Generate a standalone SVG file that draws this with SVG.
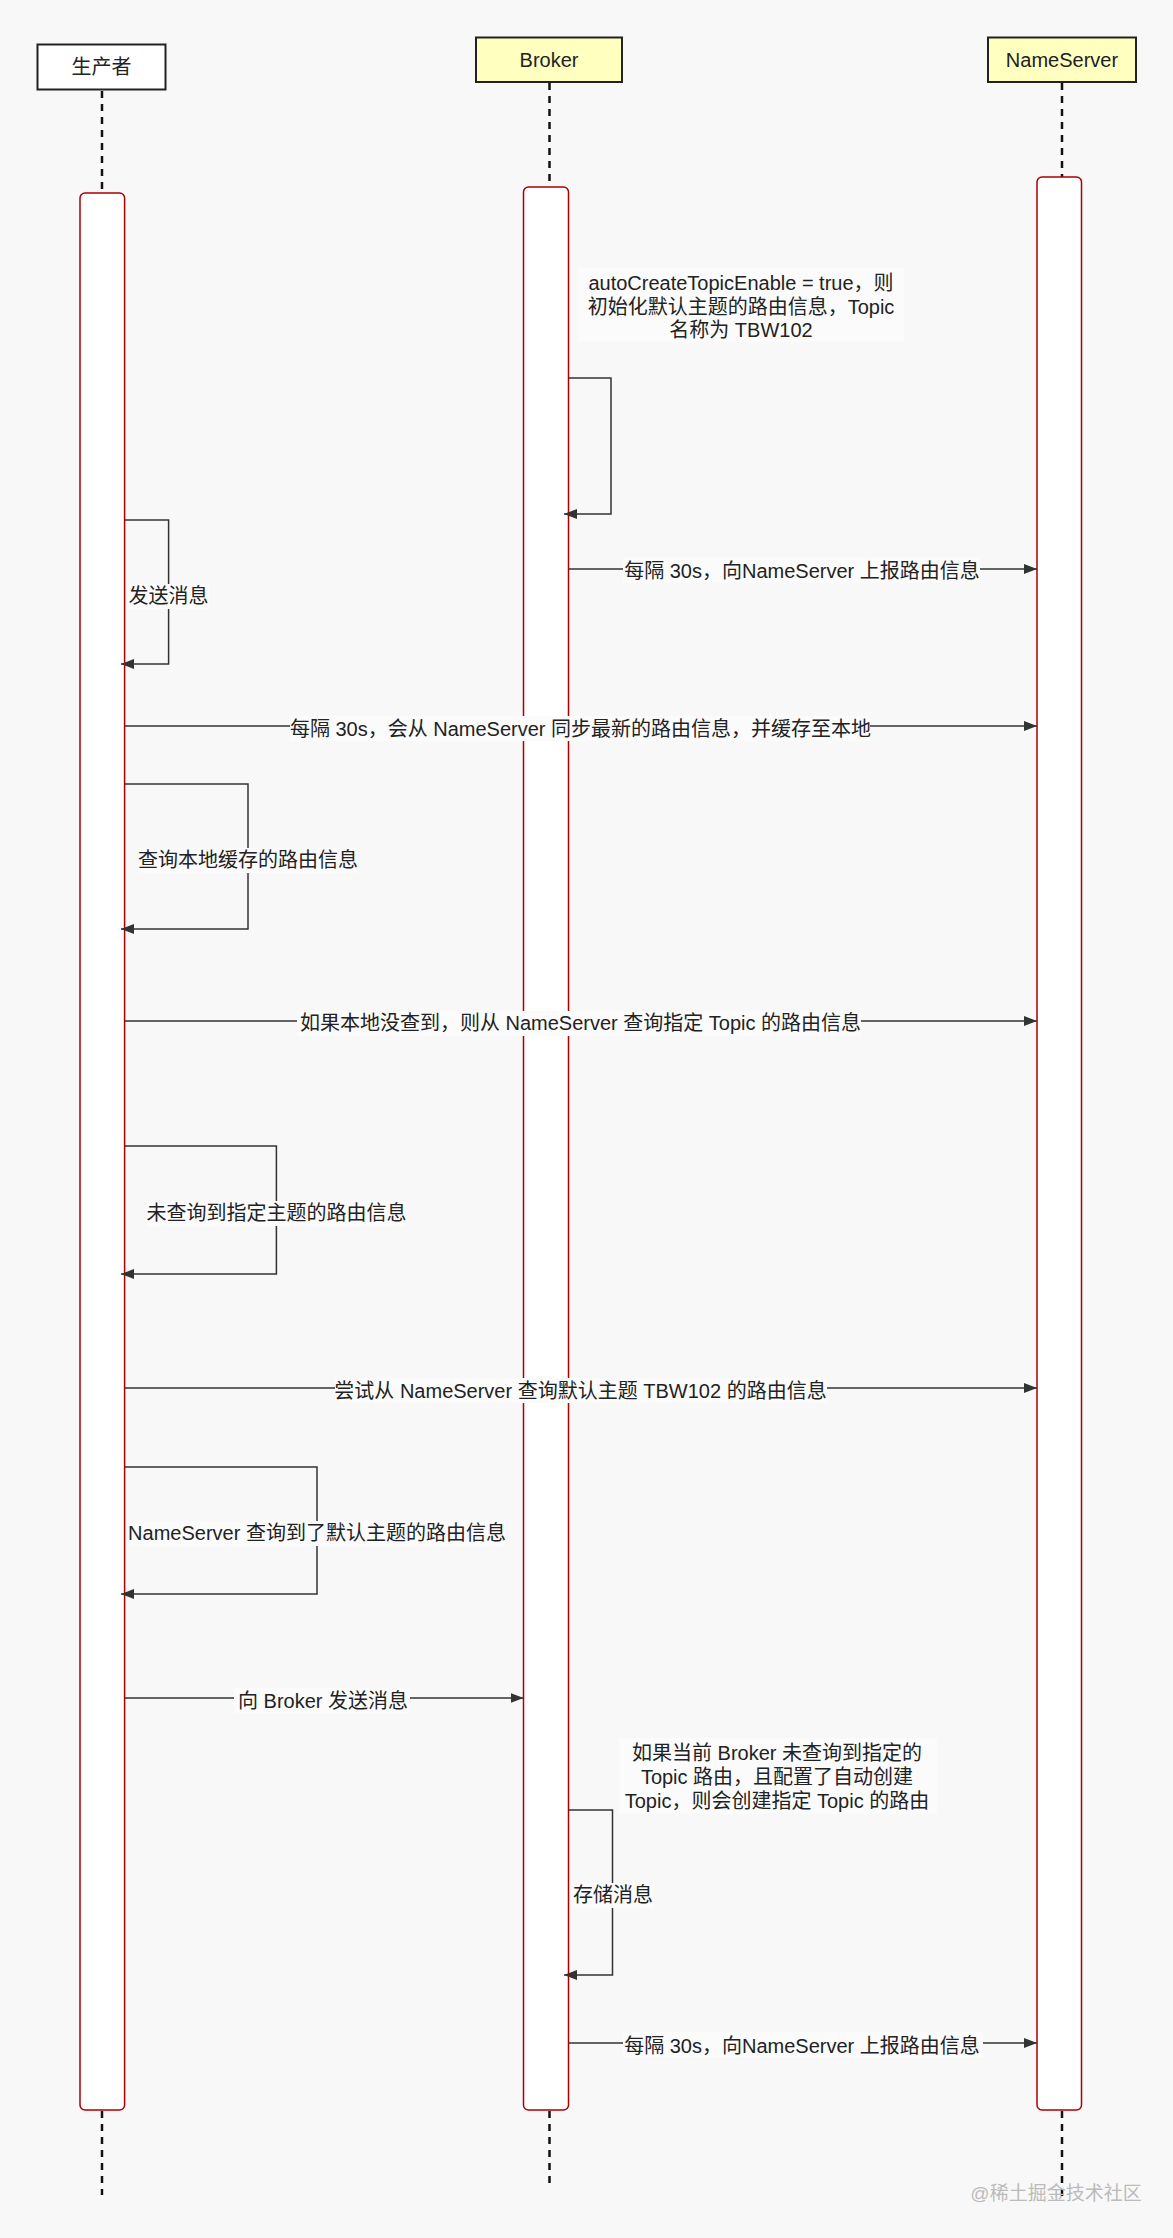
<svg xmlns="http://www.w3.org/2000/svg" width="1173" height="2238" viewBox="0 0 1173 2238">
<style>
.t{font-family:'Liberation Sans','Noto Sans CJK SC',sans-serif;font-size:20px;fill:#222;text-anchor:middle}
.bg{fill:#fbfbfb}
.life{stroke:#111;stroke-width:2.5;stroke-dasharray:7 6;fill:none}
.act{fill:#fff;stroke:#a00;stroke-width:1.5}
.msg{stroke:#333;stroke-width:1.5;fill:none}
.hdr{stroke:#222;stroke-width:2}
</style>
<defs>
<marker id="arr" viewBox="0 0 13 10" refX="13" refY="5" markerWidth="13" markerHeight="10" markerUnits="userSpaceOnUse" orient="auto">
<path d="M0,0 L13,5 L0,10 Z" fill="#333"/>
</marker>
</defs>
<rect x="0" y="0" width="1173" height="2238" fill="#f8f8f8"/>

<g id="producer">
<line class="life" x1="102" y1="91" x2="102" y2="193"/>
<line class="life" x1="102" y1="2111" x2="102" y2="2195"/>
<rect class="hdr" x="37.5" y="44.5" width="128" height="45" fill="#fff"/>
<text class="t" x="101.5" y="74">生产者</text>
<rect class="act" x="80" y="193" width="44.6" height="1917" rx="5"/>
</g>

<g id="broker">
<line class="life" x1="549.5" y1="83" x2="549.5" y2="187"/>
<line class="life" x1="549.5" y1="2111" x2="549.5" y2="2188"/>
<rect class="hdr" x="476" y="37.5" width="146" height="44.5" fill="#ffffc0"/>
<text class="t" x="549" y="67">Broker</text>
<rect class="act" x="523.5" y="187" width="45" height="1923" rx="5"/>
</g>

<g id="nameserver">
<line class="life" x1="1062" y1="83" x2="1062" y2="177"/>
<line class="life" x1="1062" y1="2111" x2="1062" y2="2196"/>
<rect class="hdr" x="988" y="37.5" width="148" height="44.5" fill="#ffffc0"/>
<text class="t" x="1062" y="67">NameServer</text>
<rect class="act" x="1037" y="177" width="44.5" height="1933" rx="5"/>
</g>

<g id="connectors">
<path class="msg" d="M568.5,378 H611 V514 H564" marker-end="url(#arr)"/>
<rect class="bg" x="578" y="268" width="326" height="74"/>
<text class="t" x="741" y="290">autoCreateTopicEnable = true，则</text>
<text class="t" x="741" y="314">初始化默认主题的路由信息，Topic</text>
<text class="t" x="741" y="337">名称为 TBW102</text>

<path class="msg" d="M568.5,569 H1037" marker-end="url(#arr)"/>
<rect class="bg" x="623" y="558" width="357" height="25"/>
<text class="t" x="802" y="578">每隔 30s，向NameServer 上报路由信息</text>

<path class="msg" d="M124.6,520 H168.6 V664 H121" marker-end="url(#arr)"/>
<rect class="bg" x="128" y="584" width="81" height="25"/>
<text class="t" x="168.6" y="603">发送消息</text>

<path class="msg" d="M124.6,726 H1037" marker-end="url(#arr)"/>
<rect class="bg" x="290" y="716" width="580" height="25"/>
<text class="t" x="580.5" y="736">每隔 30s，会从 NameServer 同步最新的路由信息，并缓存至本地</text>

<path class="msg" d="M124.6,784 H248 V929 H121" marker-end="url(#arr)"/>
<rect class="bg" x="139" y="848" width="218" height="25"/>
<text class="t" x="248" y="867">查询本地缓存的路由信息</text>

<path class="msg" d="M124.6,1021 H1037" marker-end="url(#arr)"/>
<rect class="bg" x="297" y="1011" width="564" height="25"/>
<text class="t" x="580.5" y="1030">如果本地没查到，则从 NameServer 查询指定 Topic 的路由信息</text>

<path class="msg" d="M124.6,1146 H276.4 V1274 H121" marker-end="url(#arr)"/>
<rect class="bg" x="147" y="1201" width="258" height="25"/>
<text class="t" x="276.4" y="1220">未查询到指定主题的路由信息</text>

<path class="msg" d="M124.6,1388 H1037" marker-end="url(#arr)"/>
<rect class="bg" x="335" y="1378" width="492" height="25"/>
<text class="t" x="580.5" y="1398">尝试从 NameServer 查询默认主题 TBW102 的路由信息</text>

<path class="msg" d="M124.6,1467 H317 V1594 H121" marker-end="url(#arr)"/>
<rect class="bg" x="129" y="1521" width="376" height="25"/>
<text class="t" x="317" y="1540">NameServer 查询到了默认主题的路由信息</text>

<path class="msg" d="M124.6,1698 H523.5" marker-end="url(#arr)"/>
<rect class="bg" x="234" y="1688" width="176" height="25"/>
<text class="t" x="323" y="1708">向 Broker 发送消息</text>

<path class="msg" d="M568.5,1810 H612.5 V1975 H564" marker-end="url(#arr)"/>
<rect class="bg" x="619" y="1738" width="318" height="76"/>
<text class="t" x="777" y="1760">如果当前 Broker 未查询到指定的</text>
<text class="t" x="777" y="1784">Topic 路由，且配置了自动创建</text>
<text class="t" x="777" y="1808">Topic，则会创建指定 Topic 的路由</text>
<rect class="bg" x="572" y="1883" width="82" height="25"/>
<text class="t" x="613" y="1902">存储消息</text>

<path class="msg" d="M568.5,2043 H1037" marker-end="url(#arr)"/>
<rect class="bg" x="623" y="2032" width="360" height="25"/>
<text class="t" x="802" y="2053">每隔 30s，向NameServer 上报路由信息</text>
</g>

<text x="1056" y="2200" font-family="'Liberation Sans','Noto Sans CJK SC',sans-serif" font-size="19" fill="#bbb" text-anchor="middle">@稀土掘金技术社区</text>
</svg>
